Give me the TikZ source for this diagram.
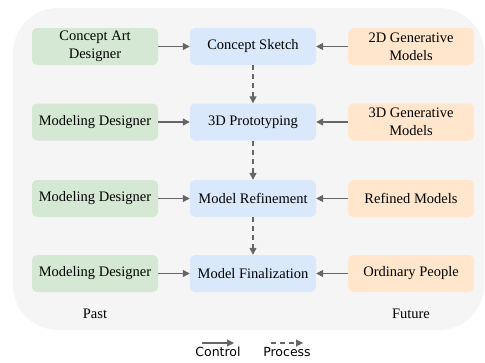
\documentclass[tikz,border=0pt]{standalone}
\usepackage{fontspec}
\setmainfont{Liberation Serif}
\newfontfamily\legendfont{DejaVu Sans}
\usetikzlibrary{arrows.meta,positioning}
\definecolor{bgfill}{HTML}{F5F5F5}
\definecolor{pastfill}{HTML}{D5E8D4}
\definecolor{stagefill}{HTML}{DAE8FC}
\definecolor{futurefill}{HTML}{FFE6CC}
\definecolor{linkcol}{HTML}{666666}
\tikzset{
  box/.style={rounded corners=5pt, minimum width=126pt, minimum height=37pt,
    inner sep=2pt, align=center, font=\fontsize{14.5}{18}\selectfont, text=black},
  pastbox/.style={box, fill=pastfill},
  stagebox/.style={box, fill=stagefill},
  futurebox/.style={box, fill=futurefill},
  ctrl/.style={draw=linkcol, line width=1.4pt, -{Triangle[length=7pt,width=7pt]}},
  proc/.style={ctrl, dash pattern=on 5pt off 4pt},
  caption/.style={font=\fontsize{14.5}{18}\selectfont},
  legendtext/.style={font=\legendfont\fontsize{12.5}{14}\selectfont}
}
\begin{document}
\begin{tikzpicture}[x=1pt,y=-1pt]
\useasboundingbox (0,0) rectangle (485,362);
% shaded panel behind the three columns
\fill[bgfill, rounded corners=45pt] (13,8) rectangle (484,330);

% left column: human roles
\node[pastbox] (p1) at (95,46.5) {Concept Art\\Designer};
\node[pastbox] (p2) at (95,122) {Modeling Designer};
\node[pastbox] (p3) at (95,198.5) {Modeling Designer};
\node[pastbox] (p4) at (95,273.5) {Modeling Designer};

% middle column: pipeline stages
\node[stagebox] (s1) at (253,46.5) {Concept Sketch};
\node[stagebox] (s2) at (253,122) {3D Prototyping};
\node[stagebox] (s3) at (253,198.5) {Model Refinement};
\node[stagebox] (s4) at (253,273.5) {Model Finalization};

% right column: generative replacements
\node[futurebox] (f1) at (411,46.5) {2D Generative\\Models};
\node[futurebox] (f2) at (411,122) {3D Generative\\Models};
\node[futurebox] (f3) at (411,198.5) {Refined Models};
\node[futurebox] (f4) at (411,273.5) {Ordinary People};

% control links
\foreach \i in {1,2,3,4}{
  \draw[ctrl] (p\i) -- (s\i);
  \draw[ctrl] (f\i) -- (s\i);
}
% process flow
\draw[proc] (s1) -- (s2);
\draw[proc] (s2) -- (s3);
\draw[proc] (s3) -- (s4);

% column captions
\node[caption] (past) at (95,314) {Past};
\node[caption] (future) at (411,314) {Future};

% legend
\node[legendtext] (lc) at (218,352) {Control};
\node[legendtext] (lp) at (287,352) {Process};
\coordinate (lca) at (202,343);
\coordinate (lcb) at (234,343);
\coordinate (lpa) at (271,343);
\coordinate (lpb) at (303,343);
\draw[ctrl, line width=1.1pt] (lca) -- (lcb);
\draw[proc, line width=1.1pt] (lpa) -- (lpb);
\end{tikzpicture}
\end{document}
